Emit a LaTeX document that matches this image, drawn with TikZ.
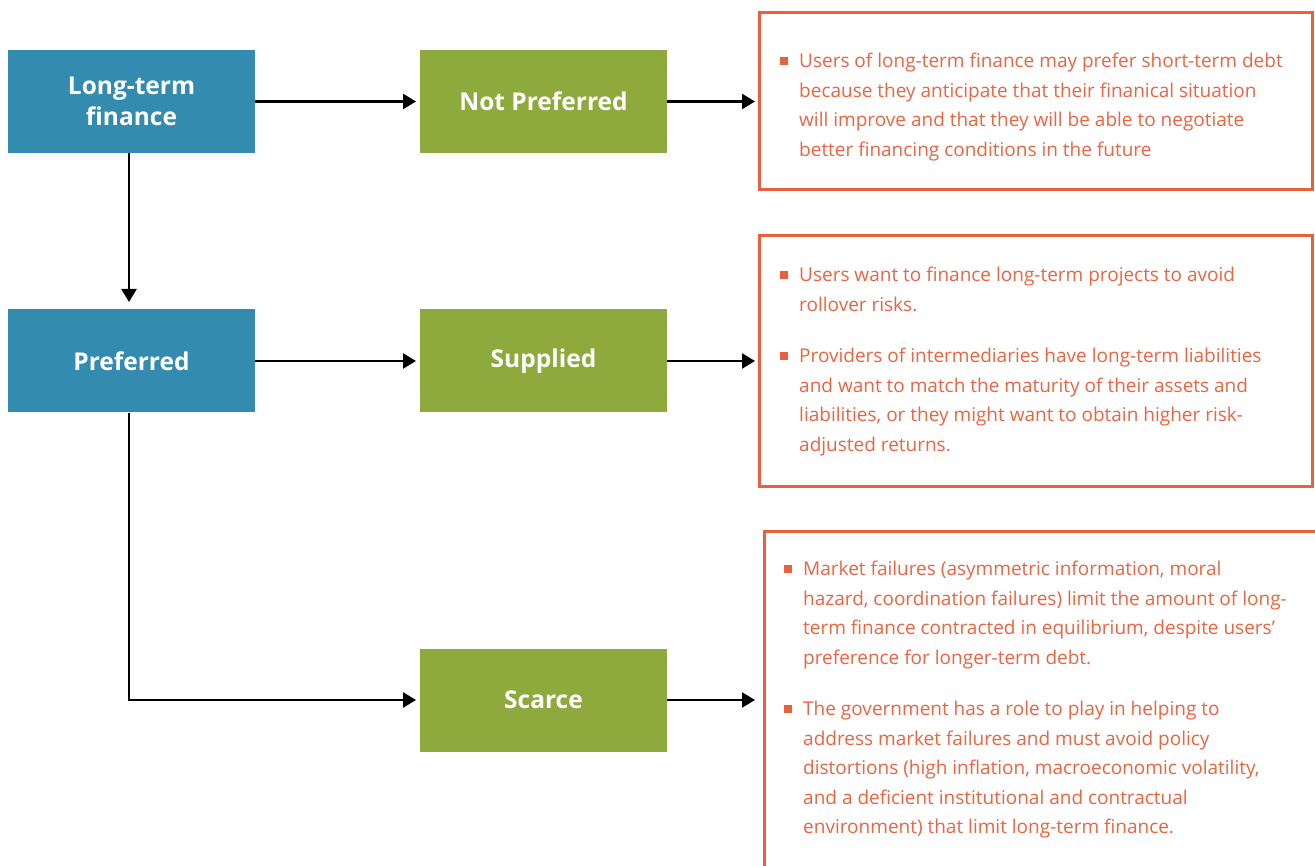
\documentclass[tikz,border=0pt]{standalone}
\usepackage{fontspec}
\setmainfont{Open Sans}
\usetikzlibrary{arrows.meta}
\definecolor{cblue}{RGB}{52,139,176}
\definecolor{cgreen}{RGB}{143,170,60}
\definecolor{corange}{RGB}{232,96,60}
\definecolor{ctext}{RGB}{236,100,66}
\begin{document}
\begin{tikzpicture}[x=1pt,y=-1pt,
  bluebox/.style={fill=cblue,minimum width=247pt,minimum height=103pt,inner sep=0pt,text=white,font=\fontsize{24.5}{31.5}\selectfont\bfseries,align=center},
  greenbox/.style={fill=cgreen,minimum width=247pt,minimum height=103pt,inner sep=0pt,text=white,font=\fontsize{24.5}{31.5}\selectfont\bfseries,align=center},
  notebox/.style={draw=corange,line width=3pt,inner sep=0pt},
  bodytext/.style={anchor=north west,inner sep=0pt,text=ctext,align=left,font=\fontsize{19}{29.5}\selectfont},
  bul/.style={fill=corange,minimum size=7.5pt,inner sep=0pt},
  conn/.style={line width=2.5pt,-{Triangle[length=13pt,width=15pt]}}]
\useasboundingbox (0,0) rectangle (1315,866);
\fill[white] (0,0) rectangle (1315,866);
% main boxes
\node[bluebox] (ltf) at (131.5,101.5) {Long-term\\finance};
\node[bluebox] (pref) at (131.5,361) {Preferred};
\node[greenbox] (np) at (543.5,101.5) {Not Preferred};
\node[greenbox] (sup) at (543.5,361) {Supplied};
\node[greenbox] (sc) at (543.5,700) {Scarce};
% note boxes
\node[notebox,minimum width=553pt,minimum height=177pt] (n1) at (1035.5,101.5) {};
\node[notebox,minimum width=553pt,minimum height=250pt] (n2) at (1035.5,361) {};
\draw[corange,line width=3pt] (1330,531.5) -- (764.5,531.5) -- (764.5,880);
% connectors
\draw[conn] (ltf.east) -- (np.west -| 416,0);
\draw[conn] (np.east) -- (n1.west -| 755,0);
\draw[conn] ([xshift=-2.5pt]ltf.south) -- ([xshift=-2.5pt]ltf.south |- 0,302);
\draw[conn] (pref.east) -- (sup.west -| 416,0);
\draw[conn] (sup.east) -- (sup.east -| 755,0);
\draw[conn] ([xshift=-2.5pt]pref.south) |- (sc.west -| 416,0);
\draw[conn] (sc.east) -- (sc.east -| 755,0);
% texts
\node[bul] (b1) at (784,61) {};
\node[bodytext] (t1) at (799,53) {Users of long-term finance may prefer short-term debt\\because they anticipate that their finanical situation\\will improve and that they will be able to negotiate\\better financing conditions in the future};
\node[bul] (b2) at (784,275) {};
\node[bodytext] (t2) at (799,267) {Users want to finance long-term projects to avoid\\rollover risks.};
\node[bul] (b3) at (784,356) {};
\node[bodytext] (t3) at (799,348) {Providers of intermediaries have long-term liabilities\\and want to match the maturity of their assets and\\liabilities, or they might want to obtain higher risk-\\adjusted returns.};
\node[bul] (b4) at (788,569) {};
\node[bodytext] (t4) at (803,561) {Market failures (asymmetric information, moral\\hazard, coordination failures) limit the amount of long-\\term finance contracted in equilibrium, despite users'\\preference for longer-term debt.};
\node[bul] (b5) at (788,709) {};
\node[bodytext] (t5) at (803,701) {The government has a role to play in helping to\\address market failures and must avoid policy\\distortions (high inflation, macroeconomic volatility,\\and a deficient institutional and contractual\\environment) that limit long-term finance.};
\end{tikzpicture}
\end{document}
